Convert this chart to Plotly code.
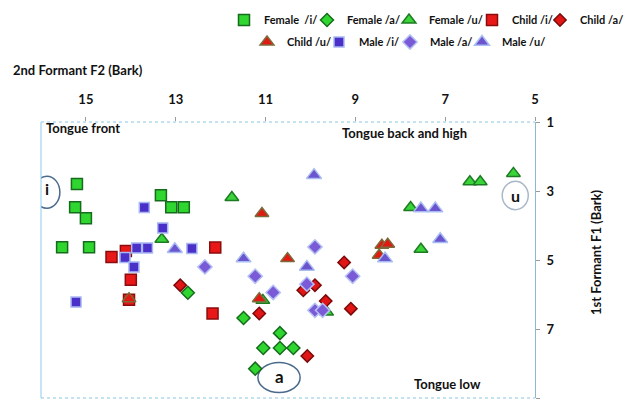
import plotly.graph_objects as go

# ---- data (Bark) ----
female_i_f2 = [15.2, 15.24, 15.0, 15.53, 14.93, 13.33, 13.10, 12.82]
female_i_f1 = [2.80, 3.47, 3.79, 4.63, 4.63, 3.12, 3.47, 3.47]

female_a_f2 = [12.73, 11.49, 10.68, 11.05, 10.68, 10.38, 11.23]
female_a_f1 = [5.95, 6.68, 7.12, 7.55, 7.55, 7.55, 8.15]

female_u_f2 = [11.75, 13.31, 5.48, 6.45, 6.22, 7.77, 7.54, 9.64, 11.06]
female_u_f1 = [3.19, 4.40, 2.49, 2.73, 2.73, 3.48, 4.69, 6.51, 6.17]

child_i_f2 = [14.43, 14.11, 14.0, 14.04, 12.12, 12.18]
child_i_f1 = [4.91, 4.74, 5.57, 6.15, 4.64, 6.55]

child_a_f2 = [12.9, 11.14, 9.9, 10.16, 9.66, 9.25, 9.10, 10.07]
child_a_f1 = [5.73, 6.55, 5.73, 5.88, 6.19, 5.07, 6.41, 7.78]

child_u_f2 = [14.04, 11.08, 10.51, 11.14, 8.41, 8.28, 8.47]
child_u_f1 = [6.12, 3.65, 4.96, 6.12, 4.57, 4.54, 4.86]

male_i_f2 = [13.70, 13.87, 13.63, 14.13, 13.93, 15.22, 13.29, 12.64]
male_i_f1 = [3.48, 4.65, 4.65, 4.93, 5.2, 6.22, 4.07, 4.67]

male_a_f2 = [12.35, 9.9, 11.23, 10.83, 10.08, 9.06, 9.9, 9.73]
male_a_f1 = [5.2, 4.62, 5.47, 5.94, 5.70, 5.47, 6.46, 6.46]

male_u_f2 = [13.02, 11.49, 10.08, 9.92, 7.54, 7.22, 7.11, 8.34]
male_u_f1 = [4.69, 4.96, 5.2, 2.54, 3.51, 3.51, 4.40, 4.96]

x_ticks = [15, 13, 11, 9, 7, 5]
y_ticks = [1, 3, 5, 7, 9]

FONT = "Lato"
OFF = 8                      # page body margin
W, H = 634 - OFF, 405 - OFF
L, R, T, B = 41 - OFF, 634 - 535, 122 - OFF, 405 - 398
PW, PH = W - L - R, H - T - B


def px_x(px):                # screen pixel -> paper
    return (px - OFF - L) / PW


def px_y(py):
    return 1 - (py - OFF - T) / PH


# name, x, y, symbol, size, fill, edge, legend text start / row centre (screen px)
series = [
    ("Female  /i/", female_i_f2, female_i_f1, "square", 11, "#2fd62f", "#166b1c", (264, 20)),
    ("Female /a/", female_a_f2, female_a_f1, "diamond", 10, "#2fd62f", "#166b1c", (347, 20)),
    ("Female /u/", female_u_f2, female_u_f1, "triangle-up", 12, "#39d439", "#1f7a24", (429, 20)),
    ("Child /i/", child_i_f2, child_i_f1, "square", 11, "#e81818", "#8a0c0c", (512, 20)),
    ("Child /a/", child_a_f2, child_a_f1, "diamond", 9.5, "#e01515", "#7a0a0a", (580, 20)),
    ("Child /u/", child_u_f2, child_u_f1, "triangle-up", 12, "#e01a12", "#7d6a3a", (287, 42)),
    ("Male /i/", male_i_f2, male_i_f1, "square", 10, "#4a30c8", "#a9b8f2", (359, 42)),
    ("Male /a/", male_a_f2, male_a_f1, "diamond", 11, "#7a5ad6", "#b4c0f4", (430, 42)),
    ("Male /u/", male_u_f2, male_u_f1, "triangle-up", 13, "#6b55cf", "#a9bdf2", (502, 42)),
]

fig = go.Figure()
legend_layouts = {}
for i, (name, xs, ys, sym, size, fill, edge, (tx, ty)) in enumerate(series):
    lg = "legend" if i == 0 else f"legend{i + 1}"
    fig.add_trace(go.Scatter(
        x=xs, y=ys, mode="markers", name=name, legend=lg,
        marker=dict(symbol=sym, size=size, color=fill,
                    line=dict(color=edge, width=1.5)),
    ))
    legend_layouts[lg] = dict(
        orientation="h", x=px_x(tx - 40), y=px_y(ty), xanchor="left", yanchor="middle",
        itemwidth=30, bgcolor="rgba(0,0,0,0)", borderwidth=0,
        font=dict(family=FONT, size=11, color="#111111", weight="bold"),
    )

fig.update_layout(
    width=W, height=H,
    margin=dict(l=L, r=R, t=T, b=B, autoexpand=False),
    paper_bgcolor="white", plot_bgcolor="white",
    font=dict(family=FONT, size=13, color="#111111"),
    showlegend=True,
    xaxis=dict(range=[16, 5], side="top", tickvals=x_ticks,
               ticktext=[str(v) for v in x_ticks],
               showgrid=False, zeroline=False, showline=False,
               ticks="outside", ticklen=4, tickcolor="#9a9a9a",
               tickfont=dict(family=FONT, size=13, weight="bold"), ticklabelstandoff=8),
    yaxis=dict(range=[9, 1], side="right", tickvals=y_ticks,
               ticktext=[str(v) for v in y_ticks],
               showgrid=False, zeroline=False, showline=True,
               linecolor="#8fb8d0", linewidth=1,
               ticks="outside", ticklen=4, tickcolor="#9a9a9a",
               tickfont=dict(family=FONT, size=13, weight="bold"), ticklabelstandoff=4),
    **legend_layouts,
)

# plot-area border
fig.add_shape(type="line", xref="paper", yref="paper", x0=0, x1=1, y0=1, y1=1,
              line=dict(color="#8cc6e6", width=1, dash="dot"))
fig.add_shape(type="line", xref="paper", yref="paper", x0=0, x1=1, y0=0, y1=0,
              line=dict(color="#8cc6e6", width=1, dash="dot"))
fig.add_shape(type="line", xref="paper", yref="paper", x0=0, x1=0, y0=0, y1=1,
              line=dict(color="#8ccbf0", width=1))

# vowel circles
ring = dict(color="#4a6a8c", width=1.5)
fig.add_shape(type="circle", xref="x", yref="y", x0=16.16, x1=15.58, y0=2.57, y1=3.50,
              line=ring, layer="below")
fig.add_shape(type="circle", xref="x", yref="y", x0=5.73, x1=5.15, y0=2.72, y1=3.54,
              line=dict(color="#a8b8c8", width=1.5), layer="below")
fig.add_shape(type="circle", xref="x", yref="y", x0=11.17, x1=10.23, y0=7.97, y1=8.84,
              line=ring, layer="below")


def note(text, x, y, size=13, xanchor="left"):
    fig.add_annotation(text=text, xref="paper", yref="paper", x=x, y=y,
                       xanchor=xanchor, yanchor="middle", showarrow=False,
                       font=dict(family=FONT, size=size, color="#111111", weight="bold"))


note("2nd Formant F2 (Bark)", px_x(11), px_y(70))
note("Tongue front", px_x(44), px_y(128))
note("Tongue back and high", px_x(340), px_y(133))
note("Tongue low", px_x(412), px_y(384))
note("i", px_x(47), px_y(188), size=16, xanchor="center")
note("u", px_x(515), px_y(195), size=16, xanchor="center")
note("a", px_x(279), px_y(376), size=17, xanchor="center")
fig.add_annotation(text="1st Formant F1 (Bark)", xref="paper", yref="paper",
                   x=px_x(596), y=px_y(252), textangle=-90, showarrow=False,
                   xanchor="center", yanchor="middle",
                   font=dict(family=FONT, size=13, color="#111111", weight="bold"))

fig.write_html("out.html")
